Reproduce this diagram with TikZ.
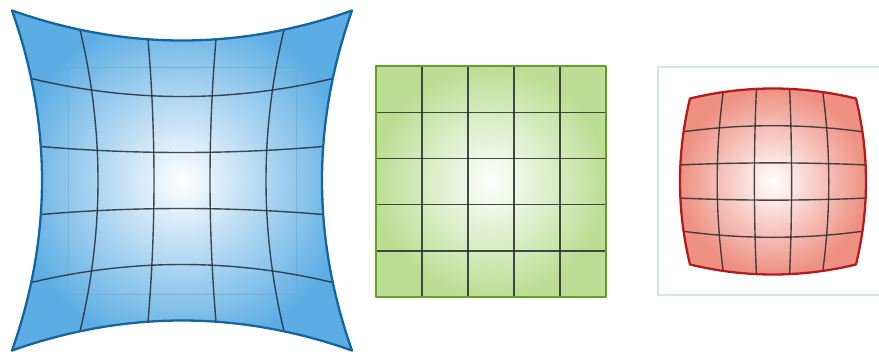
\documentclass[tikz,border=0pt]{standalone}
\usetikzlibrary{calc}
\definecolor{bluefill}{RGB}{92,173,228}
\definecolor{blueedge}{RGB}{22,100,160}
\definecolor{greenfill}{RGB}{188,222,148}
\definecolor{greenedge}{RGB}{100,160,40}
\definecolor{redfill}{RGB}{238,145,130}
\definecolor{rededge}{RGB}{180,28,28}
\definecolor{framecol}{RGB}{210,232,232}
\definecolor{innerrect}{RGB}{110,170,185}
\definecolor{gridgray}{RGB}{40,44,48}
\tikzset{
  gridline/.style={line width=1.4pt, draw=gridgray, opacity=0.85},
  bordline/.style={line width=2.3pt, line join=round},
  psamp/.style={samples=31, smooth}
}
\begin{document}
\begin{tikzpicture}[x=1pt,y=-1pt,
  declare function={
    bx(\a,\b)=182+(\a)*(140+30*(\b)*(\b));
    by(\a,\b)=180.5+(\b)*(140+30*(\a)*(\a));
    rx(\a,\b)=773+(\a)*(93-10*(\b)*(\b));
    ry(\a,\b)=181.5+(\b)*(93-10*(\a)*(\a));
  }]
\useasboundingbox (0,0) rectangle (879,354);

% ---------- pincushion (blue) ----------
\shade[inner color=white, outer color=bluefill]
  plot[psamp, domain=-1:1, variable=\t] ({bx(\t,-1)},{by(\t,-1)})
  -- plot[psamp, domain=-1:1, variable=\t] ({bx(1,\t)},{by(1,\t)})
  -- plot[psamp, domain=1:-1, variable=\t] ({bx(\t,1)},{by(\t,1)})
  -- plot[psamp, domain=1:-1, variable=\t] ({bx(-1,\t)},{by(-1,\t)}) -- cycle;
\draw[innerrect, line width=1pt, opacity=0.6] (68,67) rectangle (296,294);
\foreach \u in {-0.6,-0.2,0.2,0.6} {
  \draw[gridline] plot[psamp, domain=-1:1, variable=\t] ({bx(\u,\t)},{by(\u,\t)});
  \draw[gridline] plot[psamp, domain=-1:1, variable=\t] ({bx(\t,\u)},{by(\t,\u)});
}
\draw[bordline, draw=blueedge]
  plot[psamp, domain=-1:1, variable=\t] ({bx(\t,-1)},{by(\t,-1)})
  -- plot[psamp, domain=-1:1, variable=\t] ({bx(1,\t)},{by(1,\t)})
  -- plot[psamp, domain=1:-1, variable=\t] ({bx(\t,1)},{by(\t,1)})
  -- plot[psamp, domain=1:-1, variable=\t] ({bx(-1,\t)},{by(-1,\t)}) -- cycle;

% ---------- undistorted (green) ----------
\shade[inner color=white, outer color=greenfill] (376,66) rectangle (606,297);
\foreach \k in {1,2,3,4} {
  \draw[gridline] ({376+46*\k},66) -- ({376+46*\k},297);
  \draw[gridline] (376,{66+46.2*\k}) -- (606,{66+46.2*\k});
}
\draw[bordline, draw=greenedge, line width=2.6pt] (376,66) rectangle (606,297);

% ---------- barrel (red) ----------
\draw[framecol, line width=1.5pt] (885,67) -- (658,67) -- (658,295) -- (885,295);
\shade[inner color=white, outer color=redfill]
  plot[psamp, domain=-1:1, variable=\t] ({rx(\t,-1)},{ry(\t,-1)})
  -- plot[psamp, domain=-1:1, variable=\t] ({rx(1,\t)},{ry(1,\t)})
  -- plot[psamp, domain=1:-1, variable=\t] ({rx(\t,1)},{ry(\t,1)})
  -- plot[psamp, domain=1:-1, variable=\t] ({rx(-1,\t)},{ry(-1,\t)}) -- cycle;
\foreach \u in {-0.6,-0.2,0.2,0.6} {
  \draw[gridline] plot[psamp, domain=-1:1, variable=\t] ({rx(\u,\t)},{ry(\u,\t)});
  \draw[gridline] plot[psamp, domain=-1:1, variable=\t] ({rx(\t,\u)},{ry(\t,\u)});
}
\draw[bordline, draw=rededge]
  plot[psamp, domain=-1:1, variable=\t] ({rx(\t,-1)},{ry(\t,-1)})
  -- plot[psamp, domain=-1:1, variable=\t] ({rx(1,\t)},{ry(1,\t)})
  -- plot[psamp, domain=1:-1, variable=\t] ({rx(\t,1)},{ry(\t,1)})
  -- plot[psamp, domain=1:-1, variable=\t] ({rx(-1,\t)},{ry(-1,\t)}) -- cycle;
\end{tikzpicture}
\end{document}
